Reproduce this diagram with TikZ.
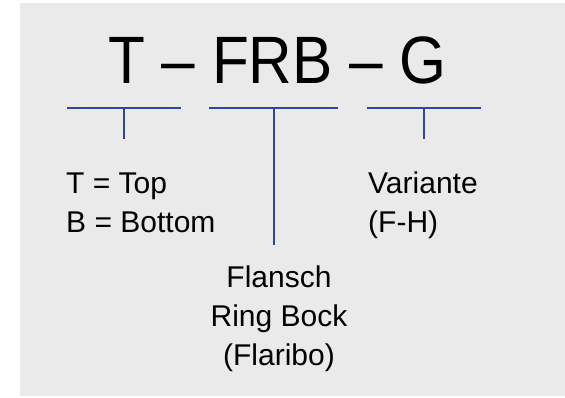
\documentclass[tikz,border=0pt]{standalone}
\usepackage{fontspec}
\setmainfont{Liberation Sans}
\newfontfamily\titlefont[FakeStretch=0.9]{Liberation Sans}
\definecolor{bgray}{HTML}{EAEAEA}
\definecolor{lblue}{HTML}{2B47A0}
\tikzset{
  brk/.style={draw=lblue, line width=1.3pt},
  lbl/.style={inner sep=0pt, font=\fontsize{30}{39}\selectfont, align=left, anchor=base west},
}
\begin{document}
\begin{tikzpicture}[x=1pt,y=-1pt]
\useasboundingbox (0,0) rectangle (565,397);
\fill[bgray] (20,3) rectangle (565,396);
\node[inner sep=0pt, anchor=base, font=\titlefont\fontsize{67}{67}\selectfont] (title) at (277.5,83) {T – FRB – G};
% brackets
\coordinate (t1) at (67,108); \coordinate (t2) at (181,108);
\coordinate (tm) at (124,108); \coordinate (tb) at (124,139);
\coordinate (f1) at (209,108); \coordinate (f2) at (338,108);
\coordinate (fm) at (274,108); \coordinate (fb) at (274,245);
\coordinate (g1) at (367,108); \coordinate (g2) at (481,108);
\coordinate (gm) at (424,108); \coordinate (gb) at (424,139);
\draw[brk] (t1) -- (t2); \draw[brk] (tm) -- (tb);
\draw[brk] (f1) -- (f2); \draw[brk] (fm) -- (fb);
\draw[brk] (g1) -- (g2); \draw[brk] (gm) -- (gb);
\node[lbl] (tl) at (66,232) {T = Top\\B = Bottom};
\node[lbl] (gl) at (368,232) {Variante\\(F-H)};
\node[lbl, align=center, anchor=base] (fl) at (279,365) {Flansch\\Ring Bock\\(Flaribo)};
\end{tikzpicture}
\end{document}
